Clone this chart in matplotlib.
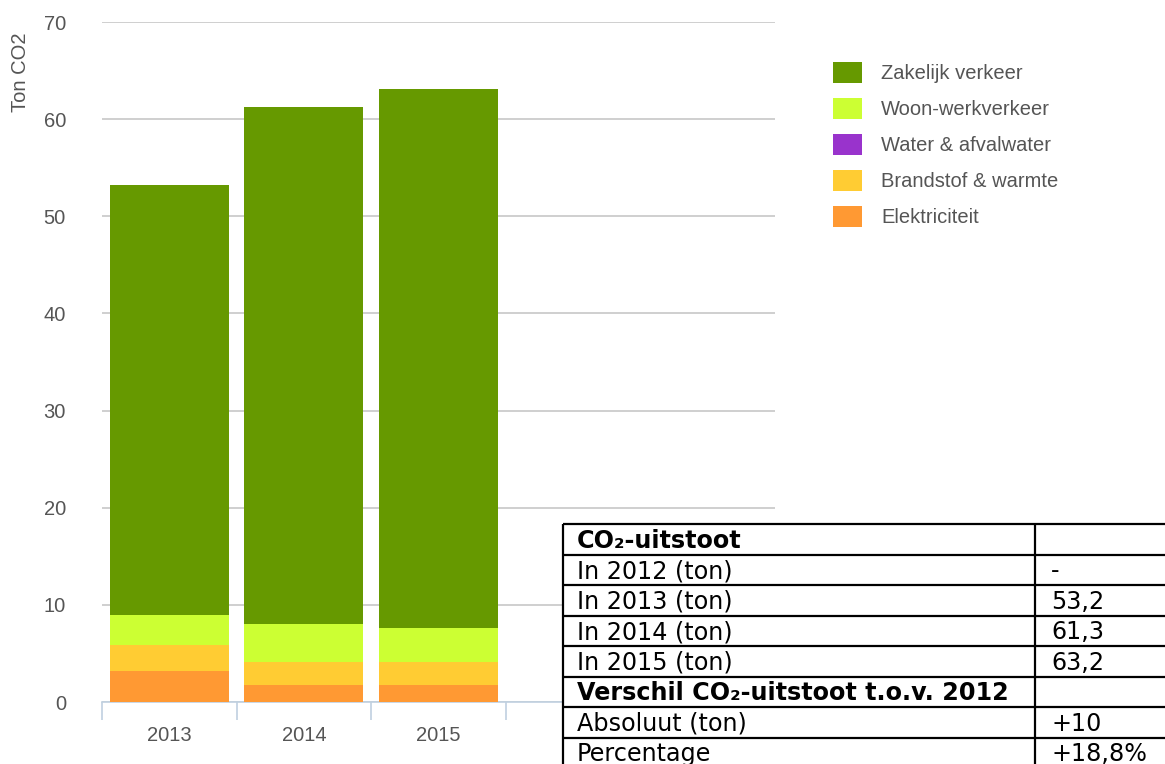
import matplotlib
matplotlib.use("Agg")
from matplotlib import pyplot as plt
import numpy as np

# data
jaren = ['2013', '2014', '2015']
elektriciteit = [3.2, 1.8, 1.8]
brandstof = [2.7, 2.35, 2.35]
water = [0.0, 0.0, 0.0]
woon_werk = [3.1, 3.85, 3.5]
zakelijk = [44.2, 53.3, 55.5]

series = ['Elektriciteit', 'Brandstof & warmte', 'Water & afvalwater',
          'Woon-werkverkeer', 'Zakelijk verkeer']
kleuren = ['#ff9933', '#ffcc33', '#9933cc', '#ccff33', '#669900']

tabel_labels = ['CO\u2082-uitstoot', 'In 2012 (ton)', 'In 2013 (ton)', 'In 2014 (ton)',
                'In 2015 (ton)', 'Verschil CO\u2082-uitstoot t.o.v. 2012',
                'Absoluut (ton)', 'Percentage']
tabel_waarden = ['', '-', '53,2', '61,3', '63,2', '', '+10', '+18,8%']
tabel_vet = [True, False, False, False, False, True, False, False]

W, H = 1165, 764
fig = plt.figure(figsize=(W / 100, H / 100), dpi=100)
plt.rcParams['font.family'] = ['Liberation Sans', 'DejaVu Sans']
tekst = '#555555'

ax = fig.add_axes([102 / W, 1 - 702 / H, (775 - 102) / W, (702 - 22) / H])
x = np.arange(len(jaren))
bodem = np.zeros(len(jaren))
for naam, waarden, kleur in zip(series, [elektriciteit, brandstof, water, woon_werk, zakelijk], kleuren):
    ax.bar(x, waarden, width=0.884, bottom=bodem, color=kleur, label=naam, zorder=3)
    bodem = bodem + np.array(waarden)

ax.set_xlim(-0.5, 4.5)
ax.set_ylim(0, 70)
ax.set_yticks(range(0, 71, 10))
ax.grid(axis='y', color='#cccccc', linewidth=1.3, zorder=0)
ax.set_xticks(x)
ax.set_xticklabels(jaren)
ax.set_xticks(np.arange(-0.5, 5, 1.0), minor=True)
ax.tick_params(axis='x', which='major', length=0, pad=17, labelsize=14.5, labelcolor=tekst)
ax.tick_params(axis='x', which='minor', length=13, color='#c0d0e0', width=1.2)
ax.tick_params(axis='y', length=0, pad=26, labelsize=14.5, labelcolor=tekst)
for kant in ['top', 'right', 'left']:
    ax.spines[kant].set_visible(False)
ax.spines['bottom'].set_color('#c0d0e0')
ax.spines['bottom'].set_linewidth(1.2)

fig.text(20 / W, 1 - 72 / H, 'Ton CO2', rotation=90, ha='center', va='center',
         fontsize=14.5, color=tekst)

handles, labels = ax.get_legend_handles_labels()
leg = fig.legend(handles[::-1], labels[::-1], loc='upper left',
                 bbox_to_anchor=(833 / W, 1 - 62 / H), frameon=False, fontsize=14.5,
                 handlelength=1.44, handleheight=1.25, handletextpad=0.95,
                 labelspacing=0.72, borderpad=0, borderaxespad=0)
for t in leg.get_texts():
    t.set_color(tekst)

# tabel rechtsonder
axt = fig.add_axes([0, 0, 1, 1], zorder=10)
axt.set_xlim(0, W)
axt.set_ylim(H, 0)
axt.axis('off')
axt.patch.set_alpha(0)
links, kolom, rechts, boven, rij = 563, 1035, 1170, 524, 30.5
axt.fill_between([links, rechts], boven, boven + rij * 8 + 5, color='white', zorder=1)
for i in range(len(tabel_labels) + 1):
    axt.hlines(boven + i * rij, links, rechts, color='black', linewidth=1.6, zorder=2)
axt.vlines([links, kolom], boven, boven + rij * 8 + 5, color='black', linewidth=1.6, zorder=2)
for i, (lab, waarde, vet) in enumerate(zip(tabel_labels, tabel_waarden, tabel_vet)):
    y = boven + i * rij + rij / 2 + 1.5
    axt.text(links + 14, y, lab, ha='left', va='center', fontsize=17.2,
             fontweight='bold' if vet else 'normal', family='DejaVu Sans', color='black', zorder=3)
    axt.text(kolom + 16, y, waarde, ha='left', va='center', fontsize=17.2,
             family='DejaVu Sans', color='black', zorder=3)

fig.savefig('out.png', dpi=100)
